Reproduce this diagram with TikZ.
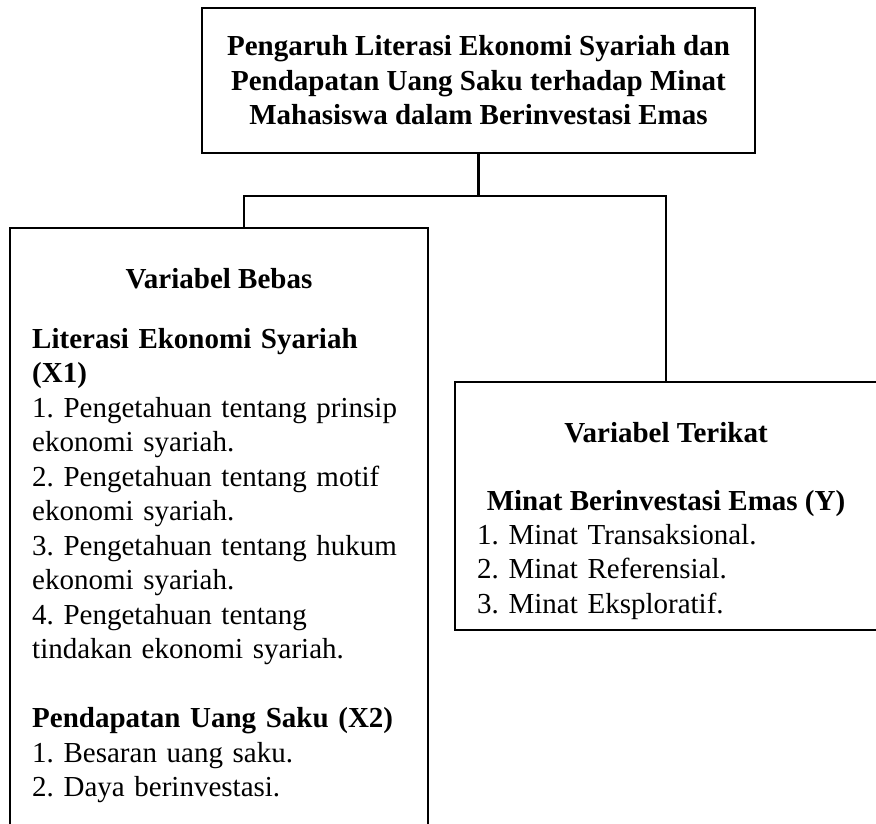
\documentclass[tikz,border=0pt]{standalone}
\usepackage{fontspec}
\setmainfont{Liberation Serif}
\frenchspacing
\usetikzlibrary{positioning,calc}

\begin{document}
\begin{tikzpicture}[x=1pt,y=-1pt,
  font=\fontsize{29}{34.5}\selectfont,
  box/.style={rectangle,draw,line width=2.2pt,inner sep=0pt},
  head/.style={font=\fontsize{29}{34.5}\selectfont\bfseries,anchor=base,inner sep=0pt},
  list/.style={anchor=base west,align=left,inner sep=0pt,text width=395pt},
  line/.style={line width=2.2pt}
]
\useasboundingbox (0,0) rectangle (876,824);
\node[box,minimum width=553pt,minimum height=145pt,align=center,
  font=\fontsize{29}{34.5}\selectfont\bfseries] (judul) at (478.5,80.5)
  {Pengaruh Literasi Ekonomi Syariah dan\\Pendapatan Uang Saku terhadap Minat\\Mahasiswa dalam Berinvestasi Emas};
\node[box,minimum width=418pt,minimum height=598pt] (bebas) at (219,527) {};
\node[box,minimum width=422pt,minimum height=248pt] (terikat) at (666,506) {};
\node[head] (hbebas) at (219,288) {Variabel Bebas};
\node[list] (xsatu) at (32,348) {\textbf{Literasi Ekonomi Syariah}\\\textbf{(X1)}\\1. Pengetahuan tentang prinsip\\ekonomi syariah.\\2. Pengetahuan tentang motif\\ekonomi syariah.\\3. Pengetahuan tentang hukum\\ekonomi syariah.\\4. Pengetahuan tentang\\tindakan ekonomi syariah.};
\node[list] (xdua) at (32,727.5) {\textbf{Pendapatan Uang Saku (X2)}\\1. Besaran uang saku.\\2. Daya berinvestasi.};
\node[head] (hterikat) at (666,442) {Variabel Terikat};
\node[head] (hy) at (666,510) {Minat Berinvestasi Emas (Y)};
\node[list] (ylist) at (477,544) {1. Minat Transaksional.\\2. Minat Referensial.\\3. Minat Eksploratif.};
\coordinate (cabang) at (judul.south |- 0,196);
\coordinate (kiri) at ($(bebas.north west)+(235,0)$);
\draw[line] (judul.south) -- (cabang);
\draw[line] (kiri) |- (cabang) -| (terikat.north);
\end{tikzpicture}
\end{document}
